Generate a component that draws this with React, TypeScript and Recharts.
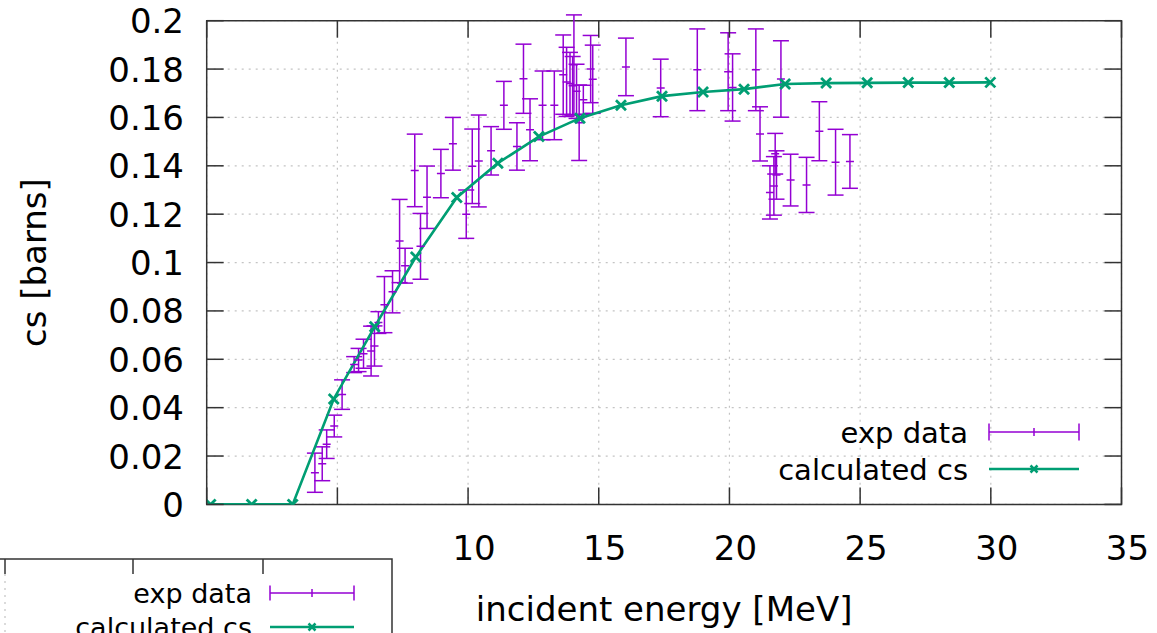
import React from "react"
import { ComposedChart, Scatter, Line, ErrorBar, XAxis, YAxis, CartesianGrid, ReferenceArea, Legend, Label } from "recharts"

// experimental points (energy in MeV, cs in barns, symmetric y error)
const expEnergy = [
  4.14, 4.42, 4.59, 4.88, 5.18, 5.64, 5.81, 6.0, 6.29, 6.42, 6.57, 6.8, 7.11, 7.38, 7.59, 7.96, 8.18, 8.43, 8.96, 9.42,
  9.93, 10.16, 10.41, 10.88, 11.37, 11.87, 12.12, 12.37, 12.85, 13.3, 13.64, 13.77, 13.9, 14.0, 14.05, 14.15, 14.25,
  14.41, 14.69, 14.77, 16.04, 17.37, 18.77, 19.95, 20.12, 21.01, 21.17, 21.97, 21.55, 21.75, 21.8, 21.7, 22.34, 22.95,
  23.44, 24.06, 24.61,
]
const expCs = [
  0.0131, 0.0168, 0.0249, 0.0324, 0.0454, 0.0578, 0.0597, 0.0623, 0.0634, 0.0655, 0.0752, 0.0826, 0.0879, 0.1089, 0.0987,
  0.1381, 0.1067, 0.127, 0.1368, 0.1491, 0.12, 0.1398, 0.142, 0.1462, 0.165, 0.148, 0.176, 0.1549, 0.165, 0.165, 0.1777,
  0.1747, 0.174, 0.1731, 0.1818, 0.1708, 0.1578, 0.1673, 0.18, 0.1758, 0.1809, 0.1722, 0.1797, 0.1789, 0.1724, 0.1797,
  0.1532, 0.1759, 0.129, 0.145, 0.1362, 0.1317, 0.1341, 0.1321, 0.1543, 0.1415, 0.1418,
]
const expErr = [
  0.0081, 0.007, 0.0059, 0.0045, 0.0061, 0.0033, 0.0048, 0.006, 0.0103, 0.0083, 0.0045, 0.0116, 0.0087, 0.0172, 0.0072,
  0.015, 0.0136, 0.0129, 0.01, 0.0109, 0.01, 0.0154, 0.019, 0.01, 0.0099, 0.0098, 0.0143, 0.0128, 0.0142, 0.0142, 0.0164,
  0.0143, 0.0129, 0.0121, 0.0206, 0.0112, 0.0156, 0.006, 0.0139, 0.0141, 0.0119, 0.0119, 0.0169, 0.0161, 0.0139, 0.0169,
  0.0112, 0.0158, 0.011, 0.0084, 0.01, 0.0121, 0.0107, 0.0114, 0.0122, 0.0136, 0.0111,
]

// calculated cross section
const calcEnergy = [
  0.15, 1.72, 3.29, 4.86, 6.43, 8.0, 9.57, 11.14, 12.71, 14.28, 15.85, 17.42, 18.99, 20.56, 22.13, 23.7, 25.27, 26.84,
  28.41, 29.98,
]
const calcCs = [
  0, 0, 0, 0.0436, 0.0735, 0.1023, 0.1269, 0.1411, 0.1521, 0.1597, 0.165, 0.1688, 0.1705, 0.1717, 0.1738, 0.1742, 0.1743,
  0.1744, 0.1744, 0.1745,
]

const xTicks = [0, 5, 10, 15, 20, 25, 30, 35]
const yTicks = [0, 0.02, 0.04, 0.06, 0.08, 0.1, 0.12, 0.14, 0.16, 0.18, 0.2]

const expData = expEnergy.map((e, i) => ({ e, cs: expCs[i], err: expErr[i] }))
const calcData = calcEnergy.map((e, i) => ({ e, cs: calcCs[i] }))

const W = 1157
const H = 633
const LEFT = 206.7
const RIGHT = 1121.5
const TOP = 20.7
const BOTTOM = 504.4
const TICK = 17
const FONT = "DejaVu Sans"
const PURPLE = "#9400d3"
const GREEN = "#009e73"
const BORDER = "#333"

function XTick(props: any) {
  const { x, payload } = props
  return (
    <g>
      <line x1={x} x2={x} y1={BOTTOM} y2={BOTTOM - TICK} stroke={BORDER} strokeWidth={1.5} />
      <line x1={x} x2={x} y1={TOP} y2={TOP + TICK} stroke={BORDER} strokeWidth={1.5} />
      <text x={x + 6} y={560} textAnchor="middle" fontSize={34} fontFamily={FONT} fill="#000">
        {payload.value}
      </text>
    </g>
  )
}

function YTick(props: any) {
  const { y, payload } = props
  return (
    <g>
      <line x1={LEFT} x2={LEFT + TICK} y1={y} y2={y} stroke={BORDER} strokeWidth={1.5} />
      <line x1={RIGHT} x2={RIGHT - TICK} y1={y} y2={y} stroke={BORDER} strokeWidth={1.5} />
      <text x={184} y={y + 12.5} textAnchor="end" fontSize={34} fontFamily={FONT} fill="#000">
        {String(payload.value)}
      </text>
    </g>
  )
}

function ExpPoint(props: any) {
  const { cx, cy } = props
  return <line x1={cx - 4} x2={cx + 4} y1={cy} y2={cy} stroke={PURPLE} strokeWidth={1.5} />
}

function XMark({ cx, cy, r = 5, w = 2.8 }: { cx: number; cy: number; r?: number; w?: number }) {
  return (
    <g stroke={GREEN} strokeWidth={w}>
      <line x1={cx - r} y1={cy - r} x2={cx + r} y2={cy + r} />
      <line x1={cx - r} y1={cy + r} x2={cx + r} y2={cy - r} />
    </g>
  )
}

// gnuplot style key
function Key({ textRight, s0, s1, y1, y2, fontSize, cap }: any) {
  const mid = (s0 + s1) / 2
  const base = fontSize * 0.38
  return (
    <g fontFamily={FONT} fontSize={fontSize} fill="#000">
      <text x={textRight} y={y1 + base} textAnchor="end">exp data</text>
      <line x1={s0} x2={s1} y1={y1} y2={y1} stroke={PURPLE} strokeWidth={1.5} />
      <line x1={s0} x2={s0} y1={y1 - cap} y2={y1 + cap} stroke={PURPLE} strokeWidth={1.5} />
      <line x1={s1} x2={s1} y1={y1 - cap} y2={y1 + cap} stroke={PURPLE} strokeWidth={1.5} />
      <line x1={mid} x2={mid} y1={y1 - 4} y2={y1 + 4} stroke={PURPLE} strokeWidth={1.5} />
      <text x={textRight} y={y2 + base} textAnchor="end">calculated cs</text>
      <line x1={s0} x2={s1} y1={y2} y2={y2} stroke={GREEN} strokeWidth={2.6} />
      <XMark cx={mid} cy={y2} r={3.5} w={2.5} />
    </g>
  )
}

function MainKey() {
  return (
    <svg width={W} height={H} style={{ display: "block" }}>
      <Key textRight={968} s0={989} s1={1079} y1={432} y2={469} fontSize={29} cap={8.5} />
    </svg>
  )
}

export default function App() {
  return (
    <div style={{ position: "absolute", left: 0, top: 0, width: W, height: H, background: "#fff", overflow: "hidden" }}>
      <ComposedChart
        width={W}
        height={H}
        margin={{ top: TOP, right: W - RIGHT, bottom: 0, left: 0 }}
        style={{ fontFamily: FONT }}
      >
        <CartesianGrid stroke="#c4c4c4" strokeDasharray="2 5" strokeWidth={1.2} />
        <XAxis
          dataKey="e"
          type="number"
          domain={[0, 35]}
          ticks={xTicks}
          allowDataOverflow
          axisLine={false}
          tickLine={false}
          height={H - BOTTOM}
          tick={(p: any) => <XTick {...p} />}
          label={
            <Label
              content={() => (
                <text x={(LEFT + RIGHT) / 2} y={621} textAnchor="middle" fontSize={34} fontFamily={FONT} fill="#000">
                  incident energy [MeV]
                </text>
              )}
            />
          }
        />
        <YAxis
          type="number"
          domain={[0, 0.2]}
          ticks={yTicks}
          allowDataOverflow
          axisLine={false}
          tickLine={false}
          width={LEFT}
          tick={(p: any) => <YTick {...p} />}
          label={
            <Label
              content={() => (
                <text
                  x={46}
                  y={(TOP + BOTTOM) / 2}
                  transform={`rotate(-90 46 ${(TOP + BOTTOM) / 2})`}
                  textAnchor="middle"
                  fontSize={34}
                  fontFamily={FONT}
                  fill="#000"
                >
                  cs [barns]
                </text>
              )}
            />
          }
        />
        <ReferenceArea x1={0} x2={35} y1={0} y2={0.2} fill="none" fillOpacity={0} stroke={BORDER} strokeWidth={1.5} />
        <Scatter
          name="exp data"
          data={expData}
          dataKey="cs"
          fill={PURPLE}
          shape={(p: any) => <ExpPoint {...p} />}
          isAnimationActive={false}
        >
          <ErrorBar dataKey="err" direction="y" width={8} stroke={PURPLE} strokeWidth={1.5} isAnimationActive={false} />
        </Scatter>
        <Line
          name="calculated cs"
          data={calcData}
          dataKey="cs"
          type="linear"
          stroke={GREEN}
          strokeWidth={2.6}
          dot={(p: any) => <XMark key={p.index} cx={p.cx} cy={p.cy} />}
          isAnimationActive={false}
        />
        <Legend
          layout="vertical"
          align="center"
          verticalAlign="middle"
          wrapperStyle={{ left: 0, top: 0, width: W, height: H, pointerEvents: "none" }}
          content={() => <MainKey />}
        />
      </ComposedChart>

      {/* stray corner of a second plot in the lower left, as in the source image */}
      <div style={{ position: "absolute", left: 0, top: 526, width: 440, height: 107, background: "#fff", overflow: "hidden" }}>
        <svg width={440} height={107} style={{ display: "block" }}>
          <polyline points="0,33 392,33 392,107" fill="none" stroke={BORDER} strokeWidth={1.5} />
          {[5, 133, 263].map((x) => (
            <line key={x} x1={x} x2={x} y1={33} y2={48} stroke={BORDER} strokeWidth={1.5} />
          ))}
          <line x1={5} x2={5} y1={48} y2={107} stroke="#c4c4c4" strokeDasharray="2 5" strokeWidth={1.2} />
          <Key textRight={252} s0={270} s1={354} y1={67} y2={101} fontSize={27} cap={7.5} />
        </svg>
      </div>
    </div>
  )
}
